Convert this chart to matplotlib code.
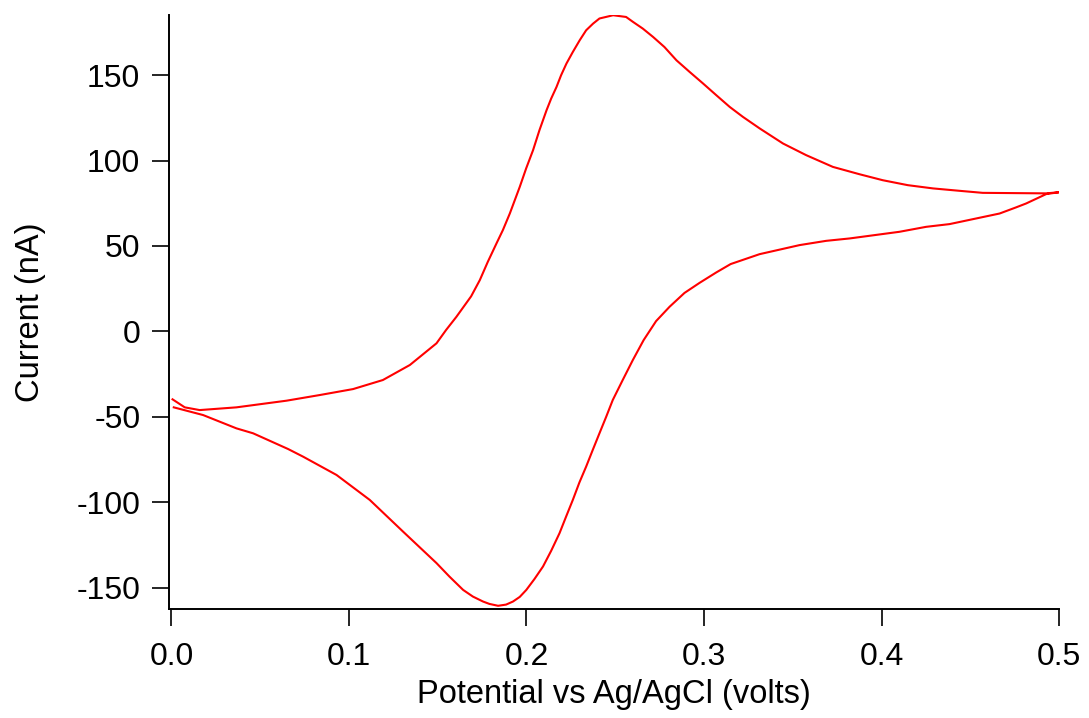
import matplotlib.pyplot as plt

# Cyclic voltammogram, values (potential in V, current in nA)
# forward (anodic) sweep 0.0 -> 0.5 V
fwd_v = [0.0006, 0.0075, 0.0159, 0.0366, 0.0648, 0.0835, 0.1023, 0.1191, 0.1343,
         0.1493, 0.1547, 0.1605, 0.1688, 0.1737, 0.1782, 0.1831, 0.1867, 0.1906,
         0.1962, 0.1998, 0.2037, 0.2073, 0.2113, 0.2139, 0.2169, 0.2195, 0.2225,
         0.2261, 0.2300, 0.2336, 0.2375, 0.2411, 0.2488, 0.2561, 0.2600, 0.2655,
         0.2713, 0.2777, 0.2845, 0.2918, 0.2995, 0.3069, 0.3145, 0.3219, 0.3314,
         0.3445, 0.3575, 0.3726, 0.3876, 0.4007, 0.4148, 0.4290, 0.4439, 0.4570,
         0.4928, 0.5003]
fwd_i = [-39.8, -44.5, -46.1, -44.5, -40.6, -37.3, -33.8, -28.5, -19.7,
         -7.0, 0.8, 8.5, 20.5, 30.0, 40.7, 51.5, 59.3, 69.0,
         84.6, 95.4, 106.1, 117.8, 129.5, 136.3, 143.1, 150.0, 156.8,
         163.6, 170.5, 176.3, 180.2, 183.2, 185.1, 184.1, 181.2, 177.3,
         172.4, 166.5, 158.7, 152.0, 145.1, 138.3, 131.4, 125.6, 118.8,
         110.0, 103.2, 96.3, 92.0, 88.5, 85.6, 83.7, 82.3, 81.1,
         80.8, 81.5]

# reverse (cathodic) sweep 0.5 -> 0.0 V
rev_v = [0.5003, 0.4928, 0.4815, 0.4758, 0.4665, 0.4383, 0.4251, 0.4101, 0.3820,
         0.3688, 0.3538, 0.3313, 0.3150, 0.3069, 0.2975, 0.2890, 0.2806, 0.2730,
         0.2660, 0.2599, 0.2542, 0.2486, 0.2449, 0.2411, 0.2373, 0.2336, 0.2298,
         0.2261, 0.2223, 0.2186, 0.2139, 0.2093, 0.2045, 0.1999, 0.1962, 0.1924,
         0.1885, 0.1840, 0.1791, 0.1755, 0.1698, 0.1643, 0.1566, 0.1493, 0.1305,
         0.1117, 0.0930, 0.0742, 0.0657, 0.0460, 0.0366, 0.0178, 0.0013]
rev_i = [81.5, 80.4, 74.9, 72.6, 69.0, 62.8, 61.2, 58.3, 54.4,
         53.0, 50.5, 45.2, 39.4, 34.5, 28.4, 22.5, 14.4, 6.0,
         -5.1, -16.8, -28.5, -40.2, -50.0, -59.7, -69.5, -79.2, -88.5,
         -98.7, -108.5, -118.2, -128.5, -137.7, -145.0, -151.4, -155.5, -158.2,
         -160.0, -160.7, -159.6, -158.2, -155.3, -151.4, -143.6, -135.7, -117.3,
         -98.7, -84.1, -73.4, -68.9, -59.7, -56.8, -49.0, -44.5]

x_ticks = [0.0, 0.1, 0.2, 0.3, 0.4, 0.5]
x_tick_labels = ["0.0", "0.1", "0.2", "0.3", "0.4", "0.5"]
y_ticks = [-150, -100, -50, 0, 50, 100, 150]

plt.rcParams['font.family'] = ['Liberation Sans', 'DejaVu Sans']
plt.rcParams['axes.unicode_minus'] = False

fig = plt.figure(figsize=(10.89, 7.18), dpi=100)
ax = fig.add_axes([0.155, 0.152, 0.8175, 0.827])

ax.plot(fwd_v + rev_v, fwd_i + rev_i, color='#ff0000', lw=1.5)

ax.set_xlim(-0.0015, 0.5)
ax.set_ylim(-162.5, 185.2)
ax.set_xticks(x_ticks)
ax.set_xticklabels(x_tick_labels)
ax.set_yticks(y_ticks)

for side in ['top', 'right']:
    ax.spines[side].set_visible(False)
for side in ['left', 'bottom']:
    ax.spines[side].set_linewidth(1.4)
ax.tick_params(direction='out', length=12.5, width=1.2, labelsize=23)
ax.tick_params(axis='x', pad=11.5)
ax.tick_params(axis='y', pad=8)

ax.set_xlabel("Potential vs Ag/AgCl (volts)", fontsize=23.5, labelpad=5)
ax.set_ylabel("Current (nA)", fontsize=23.5, labelpad=22)

fig.savefig("out.png", dpi=100)
